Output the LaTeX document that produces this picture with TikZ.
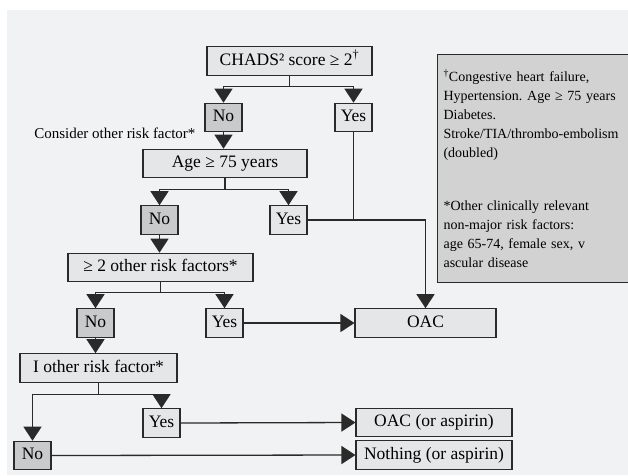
\documentclass[tikz,border=0pt]{standalone}
\usepackage{fontspec}
\setmainfont{Liberation Serif}
\usepackage{xcolor}
\usetikzlibrary{arrows.meta,positioning,calc}

\definecolor{pagebg}{HTML}{F1F2F4}
\definecolor{boxfill}{HTML}{E5E6E8}
\definecolor{nofill}{HTML}{C9CACC}
\definecolor{notefill}{HTML}{D2D2D3}
\definecolor{inkline}{HTML}{2A2A2A}
\frenchspacing

\begin{document}
\begin{tikzpicture}[
    x=1pt, y=-1pt,
    box/.style={
        rectangle,
        draw=inkline,
        line width=1.1pt,
        fill=boxfill,
        minimum height=28.5pt,
        inner xsep=0pt,
        inner ysep=0pt,
        text height=12.5pt,
        text depth=4pt,
        align=center,
        font=\fontsize{17.5}{20}\selectfont
    },
    yesbox/.style={box, minimum width=37pt},
    nobox/.style={box, fill=nofill, minimum width=37pt},
    note/.style={
        rectangle,
        draw=inkline,
        line width=1.1pt,
        fill=notefill,
        text width=186pt,
        minimum height=228pt,
        inner xsep=6pt,
        align=left,
        font=\fontsize{14}{18.8}\selectfont
    },
    link/.style={draw=inkline, line width=1.3pt},
    arrow/.style={link, -{Triangle[width=18pt,length=14pt]}}
]

\useasboundingbox (0,0) rectangle (628,475);
\fill[pagebg] (7,10) rectangle (628,475);

% =========================================
% Decision boxes
% =========================================
\node[box, minimum width=165pt] (chads) at (289.5,61) {CHADS² score ≥ 2\textsuperscript{†}};
\node[nobox] (no1) at (223.5,117.5) {No};
\node[yesbox] (yes1) at (353.5,117.5) {Yes};
\node[anchor=east, font=\fontsize{15}{18}\selectfont] (consider) at (199,133) {Consider other risk factor*};

\node[box, minimum width=164pt] (age) at (225,163.5) {Age ≥ 75 years};
\node[nobox] (no2) at (159.5,220) {No};
\node[yesbox] (yes2) at (288.5,220) {Yes};

\node[box, minimum width=185pt] (two) at (160.5,267.5) {≥ 2 other risk factors*};
\node[nobox] (no3) at (95.5,323) {No};
\node[yesbox] (yes3) at (224.5,323) {Yes};

\node[box, minimum width=157pt] (one) at (98.5,368) {I other risk factor*};
\node[yesbox] (yes4) at (161.5,423) {Yes};
\node[nobox] (no4) at (32.5,455.5) {No};

% =========================================
% Outcomes
% =========================================
\node[box, minimum width=141pt] (oac) at (425.5,323) {OAC};
\node[box, minimum width=156pt] (oacasp) at (434,422.5) {OAC (or aspirin)};
\node[box, minimum width=156pt] (nothing) at (434,455) {Nothing (or aspirin)};

% Footnote box (runs off the right edge)
\node[note, anchor=north west] (key) at (437,54) {
    \textsuperscript{†}Congestive heart failure,\\
    Hypertension. Age ≥ 75 years\\
    Diabetes.\\
    Stroke/TIA/thrombo-embolism\\
    (doubled)\\[35pt]
    *Other clinically relevant\\
    non-major risk factors:\\
    age 65-74, female sex, v\\
    ascular disease
};

% =========================================
% Arrows
% =========================================
% CHADS split
\draw[link] (chads.south) -- ++(0,11) coordinate (s1);
\draw[arrow] (s1) -| (no1.north);
\draw[arrow] (s1) -| (yes1.north);
\draw[arrow] (no1.south) -- (no1.south |- age.north);

% Age split
\draw[link] (age.south) -- ++(0,11) coordinate (s2);
\draw[arrow] (s2) -| (no2.north);
\draw[arrow] (s2) -| (yes2.north);
\draw[arrow] (no2.south) -- (no2.south |- two.north);

% Yes branches into OAC
\draw[link] (yes1.south) -- (yes1.south |- yes2.east);
\draw[arrow] (yes2.east) -| (oac.north);

% Two risk factors split
\draw[link] (two.south) -- ++(0,10) coordinate (s3);
\draw[arrow] (s3) -| (no3.north);
\draw[arrow] (s3) -| (yes3.north);
\draw[arrow] (yes3.east) -- (oac.west);
\draw[arrow] (no3.south) -- (no3.south |- one.north);

% One risk factor split
\draw[link] (one.south) -- ++(0,12) coordinate (s4);
\draw[arrow] (s4) -| (no4.north);
\draw[arrow] (s4) -| (yes4.north);
\draw[arrow] (yes4.east) -- (oacasp.west);
\draw[arrow] (no4.east) -- (nothing.west);

\end{tikzpicture}
\end{document}
